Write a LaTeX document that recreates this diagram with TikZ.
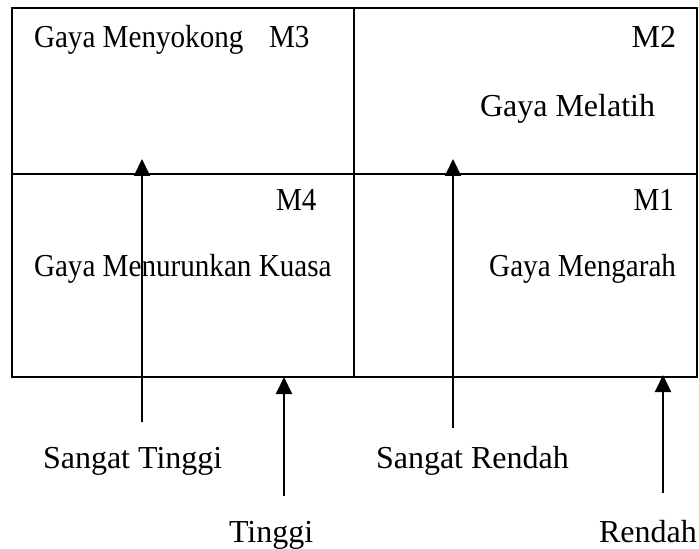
\documentclass[tikz,border=0pt]{standalone}
\usepackage{fontspec}
\setmainfont{Liberation Serif}
\newfontfamily\narrowserif[FakeStretch=0.91]{Liberation Serif}
\usetikzlibrary{arrows.meta}
\begin{document}
\begin{tikzpicture}[x=0.5pt, y=-0.5pt, line width=1pt,
        lbl/.style={anchor=base west, inner sep=0pt, font=\fontsize{16}{19}\selectfont},
        sml/.style={lbl, font=\narrowserif\fontsize{16}{19}\selectfont},
        arr/.style={-{Triangle[length=8.5pt, width=8pt]}}]
    \useasboundingbox (0,0) rectangle (699,549);
    % Quadrants
    \draw (12,8) rectangle (697,377);
    \draw (12,174) -- (697,174);
    \draw (354,8) -- (354,377);

    % Quadrant texts
    \node[sml] at (33,48)  (m3txt) {Gaya Menyokong};
    \node[sml] at (268,48) (m3)    {M3};
    \node[lbl, anchor=base east] at (677,48)  (m2)    {M2};
    \node[lbl] at (479,117) (m2txt) {Gaya Melatih};
    \node[sml] at (275,211) (m4)    {M4};
    \node[sml] at (33,277)  (m4txt) {Gaya Menurunkan Kuasa};
    \node[sml, anchor=base east] at (675,211) (m1)    {M1};
    \node[sml, anchor=base east] at (677,277) (m1txt) {Gaya Mengarah};

    % Level texts
    \node[lbl] at (42,468)  (stinggi) {Sangat Tinggi};
    \node[lbl] at (375,468) (srendah) {Sangat Rendah};
    \node[lbl] at (228,542) (tinggi)  {Tinggi};
    \node[lbl] at (598,542) (rendah)  {Rendah};

    % Arrow ends
    \coordinate (stT) at (142,422);  \coordinate (stH) at (142,159);
    \coordinate (srT) at (453,428);  \coordinate (srH) at (453,159);
    \coordinate (tT)  at (284,496);  \coordinate (tH)  at (284,377);
    \coordinate (rT)  at (663,493);  \coordinate (rH)  at (663,375);

    \draw[arr] (stT) -- (stH);
    \draw[arr] (srT) -- (srH);
    \draw[arr] (tT) -- (tH);
    \draw[arr] (rT) -- (rH);
\end{tikzpicture}
\end{document}
